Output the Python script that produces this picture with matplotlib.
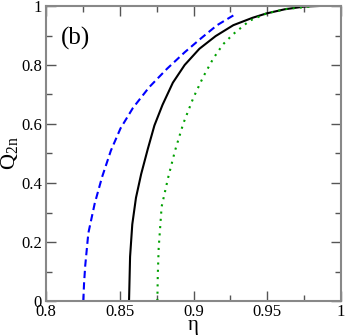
import matplotlib
matplotlib.use("Agg")
import matplotlib.pyplot as plt
from matplotlib.ticker import MultipleLocator

# blue dashed
eta_blue = [0.8253, 0.8258, 0.8266, 0.8287, 0.8330, 0.8380, 0.8440, 0.8505, 0.8590, 0.8700, 0.8820, 0.8940, 0.9050, 0.9160, 0.9270]
q_blue   = [0.0,    0.06,   0.12,   0.23,   0.33,   0.42,   0.51,   0.585,  0.655,  0.725,  0.787,  0.843,  0.890,  0.935,  0.968]
# black solid
eta_black = [0.8563, 0.8570, 0.8585, 0.8610, 0.8645, 0.8690, 0.8735, 0.8790, 0.8860, 0.8940, 0.9040, 0.9150, 0.9270, 0.9400, 0.9496, 0.9620, 0.9750, 0.9850]
q_black   = [0.0,    0.15,   0.26,   0.35,   0.43,   0.515,  0.595,  0.665,  0.740,  0.800,  0.855,  0.898,  0.935,  0.960,  0.975,  0.989,  0.998,  1.0]
# green dotted
eta_green = [0.8755, 0.8758, 0.8764, 0.8784, 0.8829, 0.8875, 0.8931, 0.9000, 0.9066, 0.9134, 0.9200, 0.9270, 0.9380, 0.9496, 0.9630, 0.9810]
q_green   = [0.0,    0.09,   0.18,   0.32,   0.42,   0.51,   0.602,  0.69,   0.76,   0.822,  0.87,   0.905,  0.95,   0.975,  0.99,   0.999]

plt.rcParams['font.family'] = ['Liberation Serif', 'DejaVu Serif']
plt.rcParams['mathtext.fontset'] = 'custom'
plt.rcParams['mathtext.rm'] = 'Liberation Serif'

fig = plt.figure(figsize=(3.46, 3.35), dpi=100)
ax = fig.add_axes([46/346, 34/335, 295/346, 295/335])

ax.plot(eta_blue, q_blue, color='#0000ff', lw=1.5, ls=(0, (3.5, 2)))
ax.plot(eta_black, q_black, color='black', lw=1.5)
ax.plot(eta_green, q_green, color='#00a000', lw=1.5, ls=(0, (1, 2.5)))

ax.set_xlim(0.8, 1.0)
ax.set_ylim(0, 1)
ax.xaxis.set_minor_locator(MultipleLocator(0.025))
ax.yaxis.set_minor_locator(MultipleLocator(0.1))
ax.set_xticks([0.8, 0.85, 0.9, 0.95, 1.0])
ax.set_xticklabels(['0.8', '0.85', '0.9', '0.95', '1'])
ax.set_yticks([0, 0.2, 0.4, 0.6, 0.8, 1.0])
ax.set_yticklabels(['0', '0.2', '0.4', '0.6', '0.8', '1'])

ax.tick_params(which='both', direction='in', top=True, right=True, colors='#555555', labelcolor='black', labelsize=12)
ax.tick_params(which='major', length=7, width=1)
ax.tick_params(which='minor', length=4, width=1)
ax.tick_params(axis='x', pad=2)
ax.tick_params(axis='y', pad=3)
for s in ax.spines.values():
    s.set_color('#888888')
    s.set_linewidth(1.5)

ax.set_xlabel('η', fontsize=15)
ax.xaxis.set_label_coords(0.5, -0.052)
ax.set_ylabel(r'Q$_{\mathrm{2n}}$', fontsize=16)
ax.yaxis.set_label_coords(-0.085, 0.5)
ax.text(0.052, 0.87, '(b)', transform=ax.transAxes, fontsize=18)

fig.savefig('out.png', dpi=100)
